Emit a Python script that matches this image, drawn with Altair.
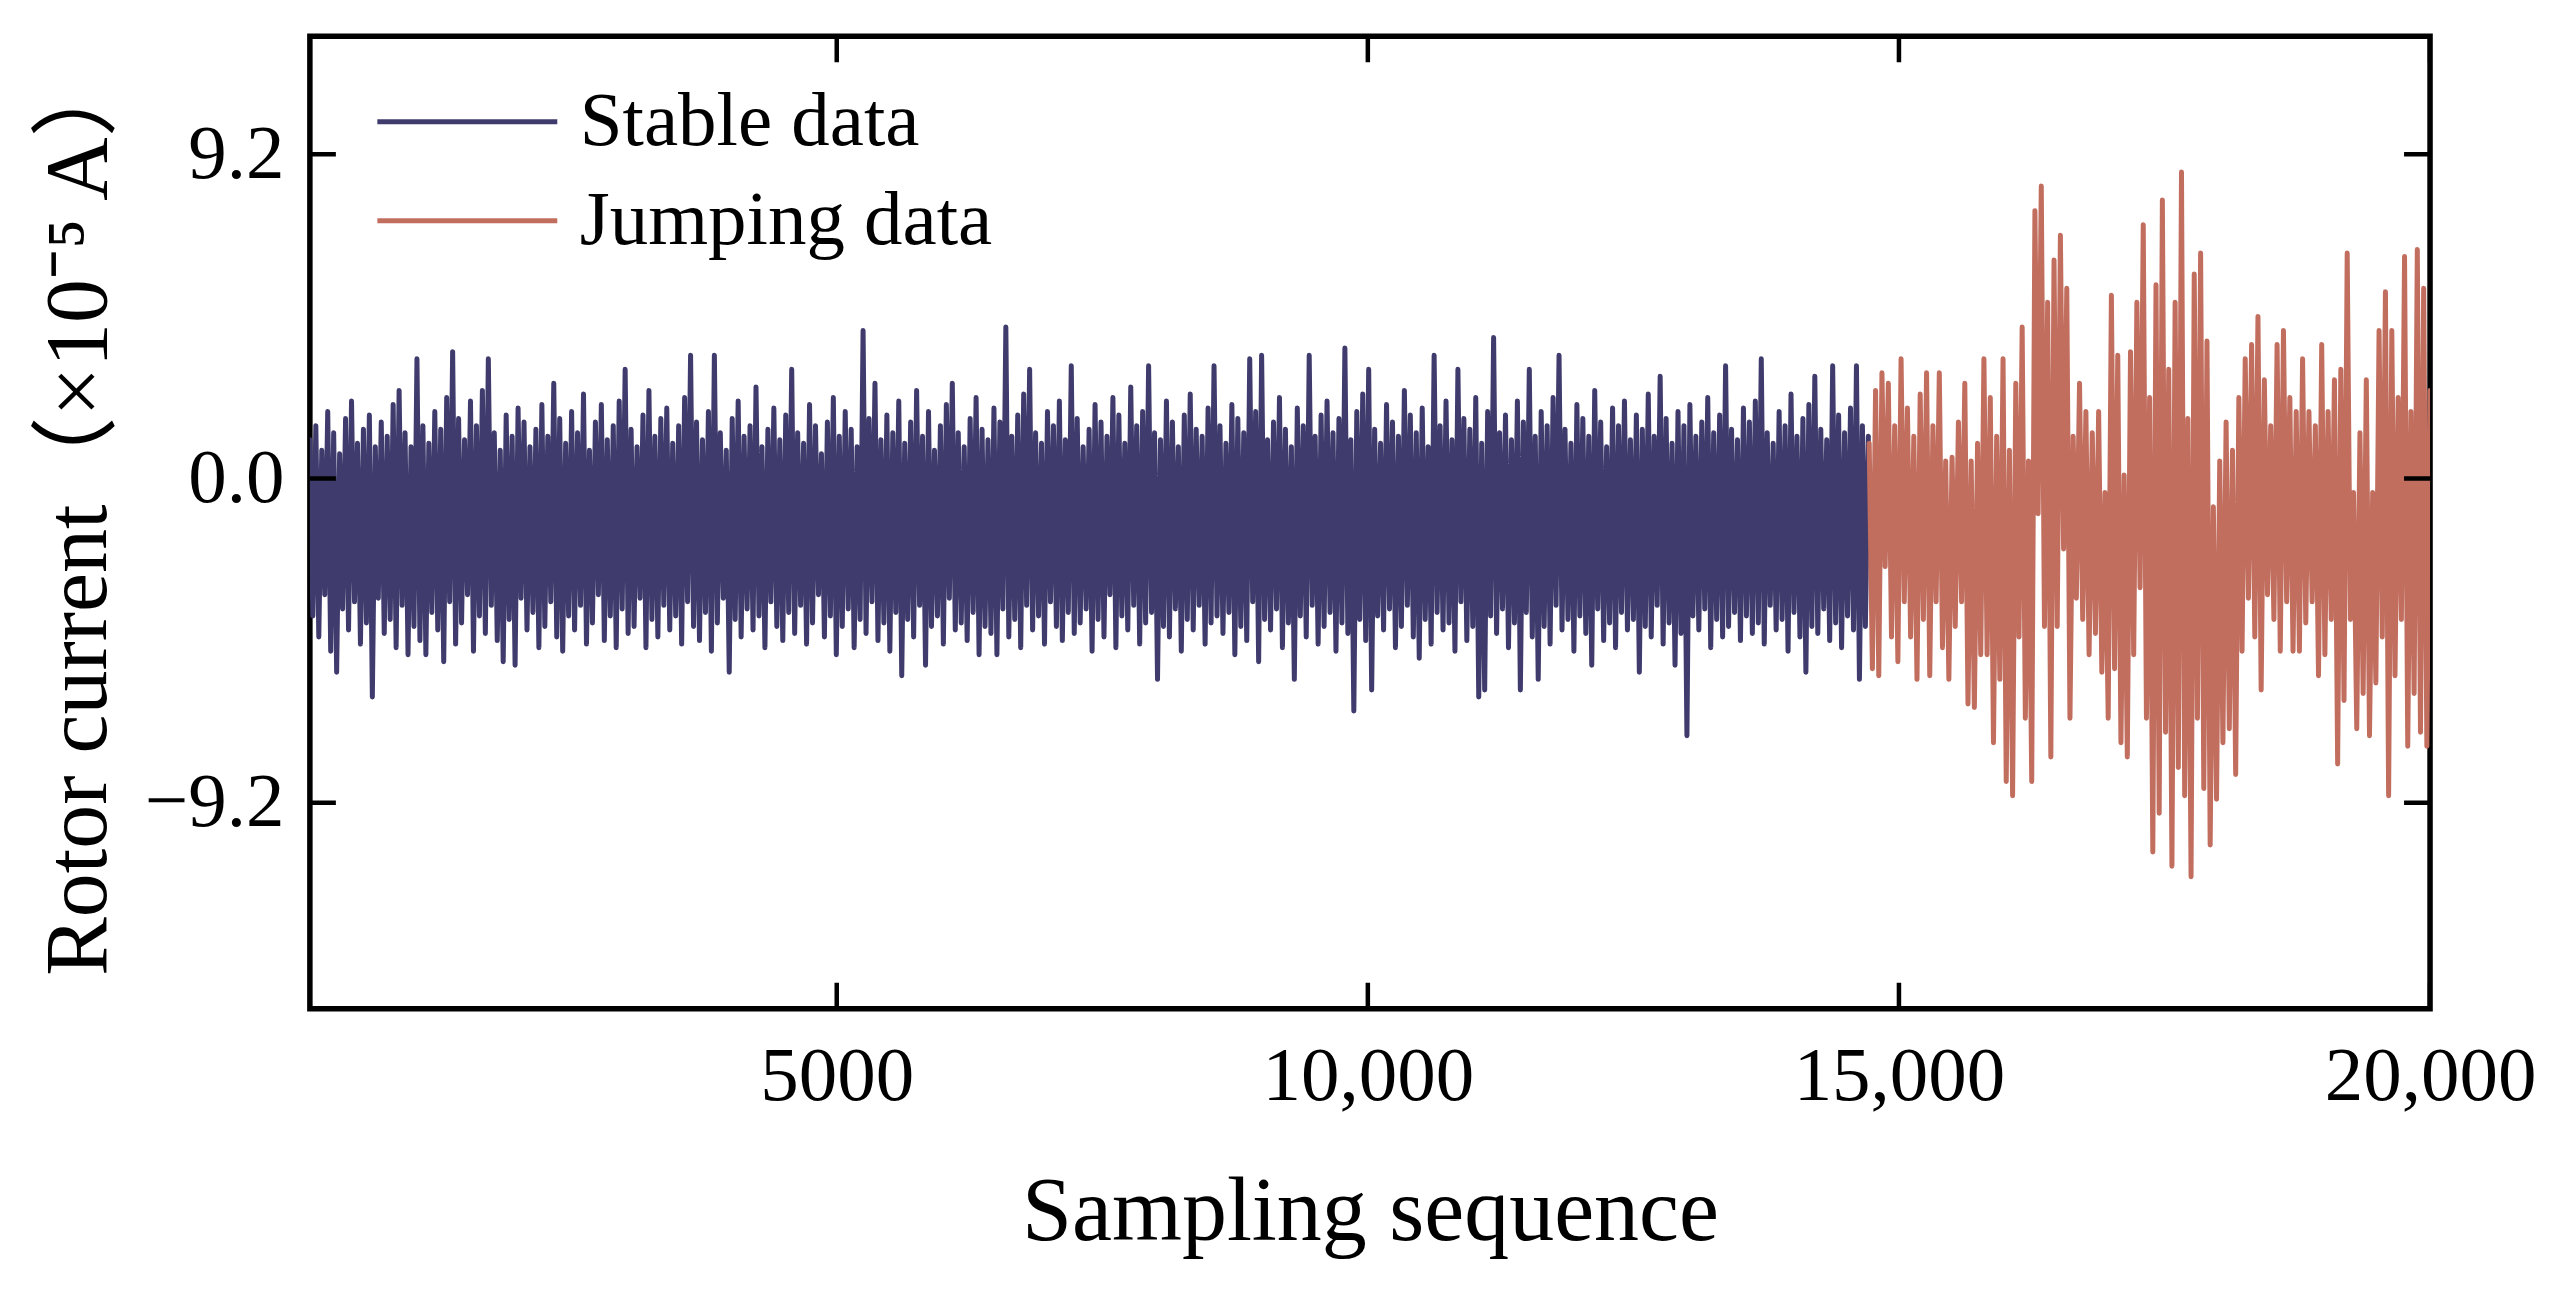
import altair as alt
import pandas as pd

# ---------------- data ----------------
series_names = ["Stable data", "Jumping data"]
series_colors = ["#3F3B6D", "#C26E5F"]

x_ticks = [5000, 10000, 15000, 20000]
y_ticks = [-9.2, 0.0, 9.2]
x_domain = [40, 20000]
y_domain = [-15.05, 12.55]

# stable segment: sample index starts at 40, one reading every 28 samples
stable_start = 40
stable_step = 28
stable_peaks = [
    1.1, 1.5, 0.8, 1.9, 1.3, 0.7, 1.7, 2.2, 1.0, 1.4, 1.8, 0.9, 1.6, 1.2, 2.1, 2.5, 1.3, 0.9, 3.4, 1.5,
    1.0, 1.9, 1.4, 2.3, 3.6, 1.7, 1.1, 2.2, 1.5, 2.5, 3.4, 1.3, 0.8, 1.8, 1.2, 2.0, 1.6, 0.9, 1.4, 2.1,
    1.2, 2.7, 1.7, 1.0, 1.9, 1.3, 2.4, 0.8, 1.6, 2.1, 1.1, 1.5, 2.2, 3.1, 1.4, 0.9, 1.8, 2.5, 1.2, 1.7,
    2.0, 1.0, 1.5, 2.3, 3.5, 1.6, 1.1, 1.9, 3.5, 1.3, 0.8, 1.7, 2.2, 1.2, 1.5, 2.6, 0.9, 1.4, 2.0, 1.1,
    1.8, 3.1, 1.3, 1.0, 2.1, 1.5, 0.7, 1.6, 2.3, 1.2, 1.9, 1.4, 0.9, 4.2, 1.7, 2.7, 1.1, 1.8, 1.3, 2.2,
    1.0, 1.6, 2.5, 1.2, 1.9, 0.8, 1.5, 2.1, 2.7, 1.3, 0.9, 1.7, 2.3, 1.4, 1.1, 2.0, 1.6, 4.3, 1.2, 1.8,
    2.4, 3.1, 1.3, 1.0, 1.9, 1.5, 2.2, 1.1, 3.2, 1.7, 0.9, 1.4, 2.1, 1.6, 1.2, 2.3, 1.8, 1.0, 2.6, 1.5,
    1.9, 3.2, 1.3, 1.1, 2.2, 1.6, 0.9, 1.8, 2.4, 1.4, 1.2, 2.0, 3.2, 1.5, 1.0, 2.1, 1.7, 1.3, 3.4, 1.9,
    3.5, 1.1, 1.6, 2.3, 1.4, 0.9, 2.0, 1.5, 3.5, 1.2, 1.8, 2.2, 1.3, 1.7, 3.7, 1.1, 1.9, 2.4, 3.1, 1.4,
    1.0, 2.1, 1.6, 1.2, 2.5, 1.8, 1.3, 2.0, 0.9, 3.5, 1.5, 2.2, 1.1, 3.1, 1.7, 1.4, 2.3, 1.0, 1.9, 4.0,
    1.3, 1.8, 1.1, 2.2, 1.6, 3.1, 1.2, 1.9, 1.5, 2.3, 3.5, 1.4, 1.0, 2.1, 1.7, 1.2, 2.5, 1.6, 0.9, 2.0,
    1.5, 2.2, 1.1, 1.8, 1.4, 2.4, 1.2, 2.9, 1.7, 1.0, 1.9, 1.5, 2.1, 1.2, 1.6, 2.3, 1.3, 1.8, 3.2, 1.4,
    1.1, 2.0, 1.6, 2.2, 3.4, 1.3, 1.0, 1.9, 1.5, 2.4, 1.2, 1.7, 2.1, 2.9, 1.4, 1.1, 3.2, 1.8, 1.3, 2.0,
    3.2, 1.5, 1.2,
]
stable_troughs = [
    -3.9, -4.5, -3.3, -4.9, -5.5, -3.7, -4.3, -3.5, -4.7, -4.1, -6.2, -3.4, -4.4, -4.0, -4.8, -3.6, -5.0, -4.2, -4.6, -5.0,
    -3.8, -4.3, -5.2, -3.5, -4.7, -4.1, -3.3, -4.9, -3.9, -4.4, -3.6, -4.6, -5.2, -4.0, -5.3, -3.4, -4.3, -3.8, -4.8, -4.2,
    -3.5, -4.5, -4.9, -3.9, -4.3, -3.6, -4.7, -4.1, -3.3, -4.6, -3.9, -4.8, -3.7, -4.4, -4.2, -3.4, -4.8, -4.0, -4.5, -3.6,
    -4.3, -3.9, -4.7, -3.5, -4.2, -4.6, -3.8, -4.9, -4.1, -3.4, -5.5, -4.0, -4.5, -3.7, -4.3, -3.9, -4.8, -3.5, -4.2, -4.6,
    -3.8, -4.4, -3.6, -4.7, -4.1, -3.3, -4.5, -3.9, -5.0, -4.2, -3.7, -4.8, -4.0, -4.4, -3.5, -4.6, -4.1, -4.9, -3.8, -5.6,
    -4.0, -4.5, -3.6, -5.3, -4.2, -3.9, -4.7, -3.4, -4.3, -4.1, -4.6, -3.8, -5.0, -4.2, -4.4, -5.0, -3.7, -4.5, -4.0, -4.8,
    -3.6, -4.3, -3.9, -4.7, -3.5, -4.2, -4.6, -3.8, -4.4, -4.1, -3.7, -4.9, -4.0, -4.5, -3.3, -4.8, -3.9, -4.3, -3.6, -4.7,
    -4.1, -3.8, -5.7, -4.2, -4.5, -3.7, -4.9, -4.0, -4.3, -3.6, -4.7, -4.1, -3.9, -4.4, -3.8, -5.0, -4.2, -4.6, -3.5, -5.2,
    -4.0, -4.3, -3.7, -4.8, -4.1, -5.7, -3.9, -4.5, -3.6, -4.7, -4.2, -3.8, -4.9, -4.1, -4.4, -6.6, -4.0, -4.6, -6.0, -3.9,
    -4.3, -3.7, -4.8, -4.2, -3.6, -4.5, -5.1, -4.0, -4.7, -3.8, -4.3, -4.1, -4.9, -3.5, -4.6, -4.2, -6.2, -6.0, -3.9, -4.4,
    -3.7, -4.8, -4.1, -6.0, -3.8, -4.5, -5.7, -4.2, -4.7, -3.6, -4.3, -4.0, -4.9, -3.9, -4.4, -5.3, -3.7, -4.6, -4.1, -4.8,
    -3.8, -4.3, -4.0, -5.5, -4.2, -4.5, -3.6, -4.7, -4.1, -5.3, -4.4, -7.3, -3.9, -4.3, -3.7, -4.8, -4.0, -4.5, -4.2, -3.8,
    -4.6, -3.9, -4.4, -4.1, -4.7, -3.6, -4.3, -4.0, -4.9, -3.8, -4.5, -5.5, -4.2, -4.4, -3.7, -4.6, -4.1, -4.8, -3.9, -4.3,
    -5.7, -4.2,
]

# jumping segment: starts at sample 14720, one reading every 30 samples
jump_start = 14720
jump_step = 30
jump_values = [
    1.0, -5.4, 2.5, -5.6, 3.0, -2.5, 2.7, -4.5, 1.5, -5.2,
    3.4, -3.5, 2.0, -4.5, 1.2, -5.7, 2.4, -4.0, 3.0, -5.6,
    1.5, -3.5, 3.0, -4.8, 0.5, -5.7, 0.6, -4.2, 1.6, -3.5,
    2.7, -6.4, 0.5, -6.5, 1.0, -5.0, 3.4, -5.0, 2.3, -7.5,
    1.2, -5.7, 3.4, -8.6, 0.8, -9.0, 2.7, -4.5, 4.3, -6.8,
    0.5, -8.6, 7.6, -1.0, 8.3, -4.2, 5.0, -7.9, 6.2, -4.2,
    6.9, -2.0, 5.4, -6.8, 1.2, -3.4, 2.7, -4.0, 1.9, -5.0,
    1.3, -4.4, 1.9, -5.5, -0.4, -6.8, 5.2, -5.4, 3.5, -7.5,
    0.1, -7.9, 3.6, -5.0, 5.0, -3.1, 7.2, -6.8, 2.3, -10.6,
    5.5, -9.5, 7.9, -7.2, 3.1, -11.0, 5.0, -8.2, 8.7, -9.0,
    1.7, -11.3, 5.8, -6.8, 6.4, -8.8, 3.9, -10.4, -0.8, -9.1,
    0.5, -7.5, 1.6, -7.1, 0.8, -8.4, 2.3, -4.9, 3.4, -3.4,
    3.8, -4.5, 4.6, -6.0, 2.8, -3.3, 1.5, -4.0, 3.8, -4.9,
    4.2, -3.5, 2.3, -4.9, 1.9, -4.9, 3.4, -4.1, 1.9, -3.5,
    1.5, -5.6, 3.8, -5.0, 1.9, -4.0, 2.8, -8.1, 3.1, -6.3,
    6.4, -4.0, -0.4, -7.1, 1.3, -6.1, 2.8, -7.3, -0.4, -5.8,
    4.2, -4.5, 5.3, -9.0, 4.2, -5.6, 2.3, -4.0, 6.3, -7.6,
    1.9, -6.1, 6.5, -7.2, 5.4, -7.6, 2.5,
]

# ---------------- tables ----------------
stable_values = []
for k in range(len(stable_troughs)):
    stable_values.append(stable_peaks[k])
    stable_values.append(stable_troughs[k])
stable_values.extend(stable_peaks[len(stable_troughs):])

rows = []
for i, v in enumerate(stable_values):
    rows.append({"x": stable_start + stable_step * i, "y": v, "series": series_names[0]})
for j, v in enumerate(jump_values):
    rows.append({"x": jump_start + jump_step * j, "y": v, "series": series_names[1]})
df = pd.DataFrame(rows)

FONT = "Liberation Serif"

xscale = alt.Scale(domain=x_domain, nice=False, zero=False)
yscale = alt.Scale(domain=y_domain, nice=False, zero=False)

x_axis = alt.Axis(
    values=x_ticks, ticks=False, domain=False, grid=False,
    labelFont=FONT, labelFontSize=77, labelColor="black", labelPadding=30,
    labelFlush=False, labelOverlap=False, labelBound=False, labelLimit=600,
    labelExpr="datum.value >= 10000 ? format(datum.value, ',') : format(datum.value, 'd')",
    title="Sampling sequence", titleFont=FONT, titleFontSize=90,
    titleFontWeight="normal", titleColor="black",
    titleBaseline="alphabetic", titleY=231,
)
y_axis = alt.Axis(
    values=y_ticks, ticks=False, domain=False, grid=False,
    labelFont=FONT, labelFontSize=77, labelColor="black", labelPadding=26,
    labelOverlap=False, labelBound=False, labelLimit=600,
    labelExpr="datum.value < 0 ? '\u2212' + format(-datum.value, '.1f') : format(datum.value, '.1f')",
    title="Rotor current\uff08\u00d710\u207b\u2075\u2009A\uff09",
    titleFont=FONT + ", Noto Sans CJK SC", titleFontSize=88,
    titleFontWeight="normal", titleColor="black", titleLimit=2000,
    titleAngle=270, titleAlign="center", titleBaseline="alphabetic",
    titleX=-204, titleY=476,
)

lines = alt.Chart(df).mark_line(strokeWidth=5, strokeJoin="round", strokeCap="round", clip=True).encode(
    x=alt.X("x:Q", scale=xscale, axis=x_axis),
    y=alt.Y("y:Q", scale=yscale, axis=y_axis),
    color=alt.Color(
        "series:N",
        scale=alt.Scale(domain=series_names, range=series_colors),
        sort=series_names,
        legend=alt.Legend(
            orient="none", legendX=65, legendY=36, title=None,
            symbolType="stroke", symbolSize=32400, symbolStrokeWidth=5,
            labelFont=FONT, labelFontSize=77, labelColor="black",
            labelOffset=20, clipHeight=99, rowPadding=0, padding=0, labelLimit=0,
        ),
    ),
    order="x:Q",
)

xt = pd.DataFrame({"v": x_ticks})
yt = pd.DataFrame({"v": y_ticks})
tick_style = dict(size=52, thickness=4.5, color="black", opacity=1, clip=True)

tick_bottom = alt.Chart(xt).mark_tick(orient="vertical", **tick_style).encode(
    x=alt.X("v:Q", scale=xscale, axis=x_axis), y=alt.datum(y_domain[0]))
tick_top = alt.Chart(xt).mark_tick(orient="vertical", **tick_style).encode(
    x=alt.X("v:Q", scale=xscale, axis=x_axis), y=alt.datum(y_domain[1]))
tick_left = alt.Chart(yt).mark_tick(orient="horizontal", **tick_style).encode(
    y=alt.Y("v:Q", scale=yscale, axis=y_axis), x=alt.datum(x_domain[0]))
tick_right = alt.Chart(yt).mark_tick(orient="horizontal", **tick_style).encode(
    y=alt.Y("v:Q", scale=yscale, axis=y_axis), x=alt.datum(x_domain[1]))

chart = alt.layer(lines, tick_bottom, tick_top, tick_left, tick_right).properties(
    width=2121, height=973,
    autosize=alt.AutoSizeParams(type="none"),
    padding={"left": 302, "top": 28, "right": 120, "bottom": 275},
    background="white",
).configure_view(stroke="black", strokeWidth=5.5)

chart.save("out.html", embed_options={"renderer": "svg", "actions": False})
